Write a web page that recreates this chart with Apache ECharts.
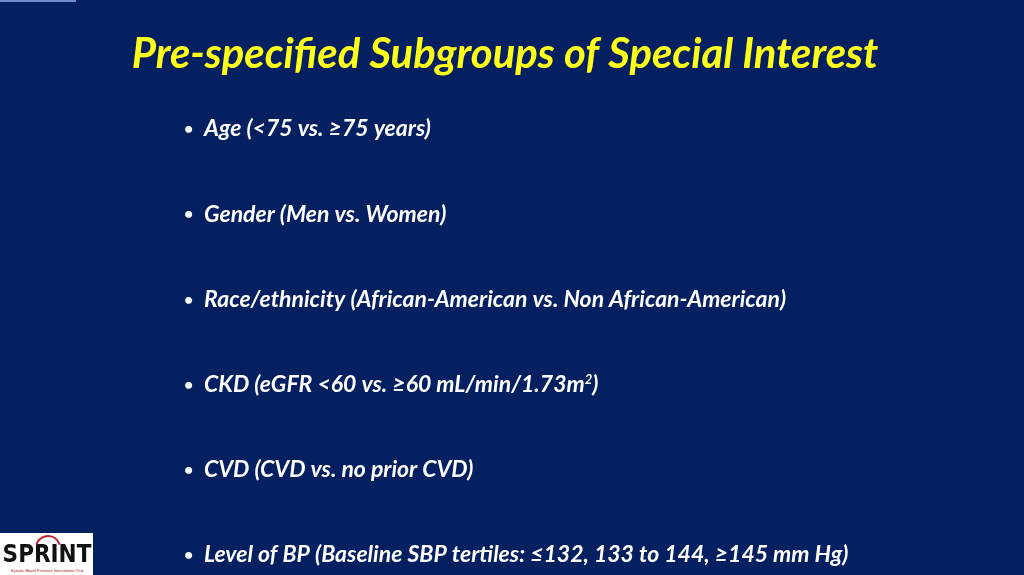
<!DOCTYPE html>
<html>
<head>
<meta charset="utf-8">
<script src="https://cdn.jsdelivr.net/npm/echarts@6/dist/echarts.min.js"></script>
<style>html,body{margin:0;padding:0;background:#052060;}#main{width:1024px;height:575px;}</style>
</head>
<body>
<div id="main"></div>
<script>
var titleText = 'Pre-specified Subgroups of Special Interest';
var bulletItems = [
  'Age (<75 vs. \u226575 years)',
  'Gender (Men vs. Women)',
  'Race/ethnicity (African-American vs. Non African-American)',
  'CKD (eGFR <60 vs. \u226560 mL/min/1.73m{sup|2})',
  'CVD (CVD vs. no prior CVD)',
  'Level of BP (Baseline SBP tertiles: \u2264132, 133 to 144, \u2265145 mm Hg)'
];

var chart = echarts.init(document.getElementById('main'));
var font = 'Lato, "Open Sans", sans-serif';
var elements = [
  { type: 'rect', shape: { x: 0, y: 0, width: 1024, height: 575 }, style: { fill: '#052060' } },
  { type: 'rect', shape: { x: 0, y: 0, width: 76, height: 2 }, style: { fill: '#6f8fd0' } },
  { type: 'text', x: 505, y: 55, style: { text: titleText, fill: '#ffff1a', font: 'italic bold 41.8px ' + font, align: 'center', verticalAlign: 'middle' } }
];
bulletItems.forEach(function (t, i) {
  var y = 129 + i * 85.2;
  elements.push({ type: 'text', x: 184, y: y, style: { text: '\u2022', fill: '#ffffff', font: 'bold 16px ' + font, verticalAlign: 'middle' } });
  elements.push({ type: 'text', x: 204, y: y, style: {
    text: t, fill: '#ffffff', font: 'italic bold 23px ' + font, verticalAlign: 'middle',
    rich: { sup: { fill: '#ffffff', font: 'italic bold 13px ' + font, verticalAlign: 'top', padding: [0, 0, 9, 0] } }
  } });
});
// logo
elements.push({ type: 'rect', shape: { x: 0, y: 533, width: 93, height: 42 }, style: { fill: '#ffffff' } });
elements.push({ type: 'text', x: 47, y: 556, style: { text: 'SPRINT', fill: '#111111', font: 'bold 24px "Liberation Sans Narrow", "DejaVu Sans Condensed", sans-serif', align: 'center', verticalAlign: 'middle' } });
elements.push({ type: 'text', x: 47, y: 571, style: { text: 'Systolic Blood Pressure Intervention Trial', fill: '#b02020', font: '4px sans-serif', align: 'center', verticalAlign: 'middle' } });
elements.push({ type: 'arc', shape: { cx: 48, cy: 548, r: 12, startAngle: 3.4, endAngle: 6.0 }, style: { stroke: '#c02030', lineWidth: 2, fill: null } });

chart.setOption({ backgroundColor: '#052060', graphic: elements });
</script>
</body>
</html>
